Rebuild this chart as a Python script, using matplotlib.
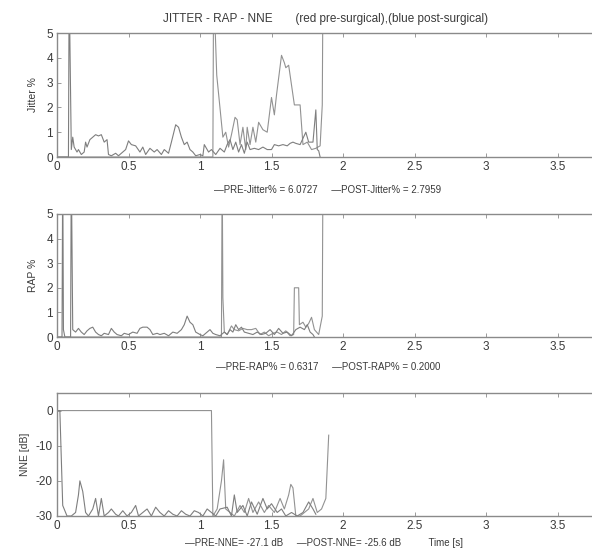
import numpy as np
import matplotlib
matplotlib.use("Agg")
import matplotlib.pyplot as plt

plt.rcParams['font.family'] = ['Liberation Sans', 'DejaVu Sans']
plt.rcParams['axes.unicode_minus'] = False

# ---- data (time in s) ----
# post-surgical jitter
t_post_jit = [0.00, 0.08, 0.085, 0.10, 0.11, 0.12, 0.14, 0.15, 0.17, 0.19, 0.20, 0.21, 0.23, 0.25,
              0.27, 0.29, 0.31, 0.33, 0.35, 0.36, 0.38, 0.41, 0.43, 0.46, 0.48, 0.50, 0.52, 0.55,
              0.58, 0.60, 0.62, 0.65, 0.68, 0.70, 0.73, 0.75, 0.78, 0.80, 0.83, 0.85, 0.87, 0.89,
              0.91, 0.93, 0.95, 0.97, 1.00, 1.02, 1.03, 1.06, 1.08, 1.11, 1.14, 1.17, 1.19, 1.21,
              1.23, 1.25, 1.27, 1.29, 1.31, 1.33, 1.35, 1.38, 1.41, 1.44, 1.47, 1.50, 1.52, 1.55,
              1.58, 1.61, 1.63, 1.65, 1.67, 1.70, 1.74, 1.76, 1.79, 1.81, 1.82, 1.83, 1.84]
post_jit = [0, 0, 7, 0.3, 0.8, 0.4, 0.2, 0.3, 0.1, 0.2, 0.6, 0.4, 0.7, 0.8,
            0.9, 0.85, 0.9, 0.6, 0.7, 0.1, 0.05, 0.15, 0.05, 0.2, 0.3, 0.65, 0.5, 0.45,
            0.2, 0.4, 0.1, 0.35, 0.2, 0.3, 0.1, 0.3, 0.15, 0.6, 1.3, 1.2, 0.8, 0.5,
            0.6, 0.3, 0.2, 0.05, 0.1, 0.05, 0.5, 0.2, 0.3, 0.1, 0.35, 0.2, 0.5, 0.7,
            0.3, 0.6, 0.2, 0.5, 0.15, 0.6, 0.3, 0.35, 0.3, 0.4, 0.3, 0.3, 0.5, 0.45,
            0.5, 0.45, 0.55, 0.6, 0.55, 0.5, 1.0, 0.6, 0.6, 1.9, 0.3, 0.25, 0]
# pre-surgical jitter
t_pre_jit = [0.00, 1.09, 1.095, 1.117, 1.16, 1.18, 1.20, 1.22, 1.245, 1.26, 1.28, 1.30, 1.32, 1.33,
             1.35, 1.37, 1.39, 1.41, 1.44, 1.47, 1.50, 1.52, 1.535, 1.57, 1.59, 1.60, 1.62, 1.66,
             1.70, 1.72, 1.75, 1.78, 1.81, 1.84, 1.855, 1.86]
pre_jit = [0, 0, 7, 3.3, 0.8, 1.0, 0.4, 0.9, 1.6, 1.5, 0.5, 1.2, 0.3, 1.2,
           0.5, 1.2, 0.6, 1.4, 1.1, 1.0, 2.4, 1.7, 2.5, 4.1, 3.8, 3.6, 3.7, 2.1,
           2.1, 0.5, 0.6, 0.3, 0.35, 0.45, 2.1, 7]

# post-surgical RAP
t_post_rap = [0.00, 0.035, 0.04, 0.045, 0.055, 0.095, 0.10, 0.11, 0.13, 0.15, 0.17, 0.19, 0.21, 0.23,
              0.25, 0.27, 0.29, 0.31, 0.33, 0.36, 0.38, 0.40, 0.42, 0.45, 0.47, 0.50, 0.53, 0.56,
              0.58, 0.60, 0.63, 0.65, 0.67, 0.70, 0.72, 0.75, 0.78, 0.81, 0.84, 0.87, 0.89, 0.91,
              0.93, 0.95, 0.97, 1.00, 1.02, 1.05, 1.07, 1.09, 1.11, 1.14, 1.17, 1.19, 1.21, 1.23,
              1.25, 1.27, 1.29, 1.31, 1.34, 1.37, 1.40, 1.43, 1.46, 1.49, 1.52, 1.55, 1.58, 1.61,
              1.64, 1.67, 1.70, 1.73, 1.75, 1.77, 1.79, 1.80]
post_rap = [0, 0, 7, 0.3, 0, 0, 7, 0.3, 0.2, 0.35, 0.2, 0.1, 0.25, 0.35,
            0.4, 0.2, 0.1, 0.05, 0.15, 0.1, 0.35, 0.2, 0.1, 0.05, 0.15, 0.1, 0.2, 0.15,
            0.35, 0.4, 0.4, 0.3, 0.1, 0.15, 0.1, 0.15, 0.05, 0.2, 0.15, 0.3, 0.5, 0.85,
            0.6, 0.5, 0.2, 0.1, 0.05, 0.2, 0.3, 0.15, 0.1, 0.05, 0.2, 0.1, 0.3, 0.2,
            0.5, 0.3, 0.4, 0.2, 0.15, 0.1, 0.2, 0.1, 0.15, 0.3, 0.1, 0.35, 0.15, 0.2,
            0.05, 0.3, 0.4, 0.3, 0.5, 0.2, 0.1, 0]
# pre-surgical RAP
t_pre_rap = [0.00, 1.15, 1.155, 1.16, 1.17, 1.19, 1.22, 1.24, 1.27, 1.30, 1.33, 1.36, 1.39, 1.42,
             1.45, 1.48, 1.51, 1.54, 1.57, 1.60, 1.63, 1.655, 1.66, 1.69, 1.695, 1.72, 1.74, 1.76,
             1.78, 1.80, 1.83, 1.855, 1.86]
pre_rap = [0, 0, 7, 1.6, 0.2, 0.1, 0.45, 0.3, 0.25, 0.35, 0.3, 0.3, 0.35, 0.1,
           0.2, 0.05, 0.15, 0.2, 0.1, 0.25, 0.05, 0.1, 2.0, 2.0, 0.5, 0.6, 0.4, 0.55,
           0.8, 0.3, 0.1, 0.85, 7]

# post-surgical NNE (dB)
t_post_nne = [0.00, 0.02, 0.04, 0.07, 0.10, 0.13, 0.15, 0.16, 0.18, 0.20, 0.22, 0.25, 0.27, 0.29,
              0.31, 0.33, 0.36, 0.38, 0.41, 0.43, 0.46, 0.49, 0.52, 0.55, 0.57, 0.60, 0.63, 0.66,
              0.69, 0.72, 0.75, 0.78, 0.81, 0.84, 0.87, 0.90, 0.93, 0.96, 0.99, 1.02, 1.05, 1.08,
              1.11, 1.14, 1.19, 1.22, 1.24, 1.26, 1.30, 1.33, 1.36, 1.40, 1.44, 1.47, 1.50, 1.54,
              1.57, 1.60, 1.64, 1.68, 1.72, 1.76, 1.79, 1.81]
post_nne = [0, 0, -27, -30, -30, -29, -24, -20, -23, -29, -30, -28, -25, -30,
            -25, -30, -29, -28, -29.5, -30, -28.5, -30, -29, -27, -30, -29, -28, -30,
            -27.5, -29, -30, -28.5, -29.5, -30, -28.5, -29.5, -30, -28.5, -29, -30, -28, -29,
            -30, -28, -27.5, -30, -24, -29, -27, -30, -26, -29.5, -25, -28, -26.5, -29,
            -28, -30, -29, -30, -29, -26, -28, -29.5]
# pre-surgical NNE (dB)
t_pre_nne = [0.00, 1.08, 1.09, 1.12, 1.15, 1.165, 1.18, 1.21, 1.24, 1.28, 1.31, 1.34, 1.37, 1.41,
             1.45, 1.48, 1.52, 1.56, 1.59, 1.62, 1.635, 1.65, 1.67, 1.70, 1.73, 1.76, 1.79, 1.82,
             1.85, 1.88, 1.90]
pre_nne = [0, 0, -30, -28, -20, -14, -28, -29, -30, -27, -29, -25, -29, -26,
           -29, -27, -29, -25, -28, -24, -21, -22, -30, -30, -29, -28, -25, -29,
           -28, -25, -7]

title_txt = "JITTER - RAP - NNE       (red pre-surgical),(blue post-surgical)"
ylabels = ["Jitter %", "RAP %", "NNE [dB]"]
notes = ["\u2014PRE-Jitter% = 6.0727     \u2014POST-Jitter% = 2.7959",
         "\u2014PRE-RAP% = 0.6317     \u2014POST-RAP% = 0.2000",
         "\u2014PRE-NNE= -27.1 dB     \u2014POST-NNE= -25.6 dB          Time [s]"]

W, H = 592, 550
fig = plt.figure(figsize=(W / 100, H / 100), dpi=100)

# axes boxes in pixels: (left, top, bottom); x=0..4 spans 572 px (cut by image edge)
boxes = [(57, 33, 157), (57, 214, 337), (57, 393, 516)]
series = [(t_pre_jit, pre_jit, t_post_jit, post_jit),
          (t_pre_rap, pre_rap, t_post_rap, post_rap),
          (t_pre_nne, pre_nne, t_post_nne, post_nne)]
ylims = [(0, 5), (0, 5), (-30, 5)]
yticks = [[0, 1, 2, 3, 4, 5], [0, 1, 2, 3, 4, 5], [-30, -20, -10, 0]]
note_y = [190, 367, 543]
note_x = [328, 328, 324]
ylab_pad = [6, 6, 4]

gray_ax = '#8a8a8a'
txt_c = '#3a3a3a'

for i in range(3):
    l, t, b = boxes[i]
    ax = fig.add_axes([l / W, 1 - b / H, 572 / W, (b - t) / H])
    tp, yp, tq, yq = series[i]
    ax.plot(tp, yp, color='#929292', lw=0.8)
    ax.plot(tq, yq, color='#7e7e7e', lw=0.8)
    ax.set_xlim(0, 4)
    ax.set_ylim(*ylims[i])
    ax.set_xticks([0, 0.5, 1, 1.5, 2, 2.5, 3, 3.5])
    ax.set_xticklabels(['0', '0.5', '1', '1.5', '2', '2.5', '3', '3.5'])
    ax.set_yticks(yticks[i])
    ax.tick_params(direction='in', top=True, right=True, length=3, width=0.6,
                   colors=gray_ax, labelcolor=txt_c, labelsize=8.5, pad=3)
    for s in ax.spines.values():
        s.set_color(gray_ax)
        s.set_linewidth(1.0)
    ax.set_ylabel(ylabels[i], fontsize=7.5, color=txt_c, labelpad=ylab_pad[i])
    fig.text(note_x[i] / W, 1 - note_y[i] / H, notes[i], fontsize=7, color=txt_c,
             ha='center', va='center')

fig.text(326 / W, 1 - 19 / H, title_txt, fontsize=8.5, color=txt_c, ha='center', va='center')

fig.savefig('out.png', dpi=100)
